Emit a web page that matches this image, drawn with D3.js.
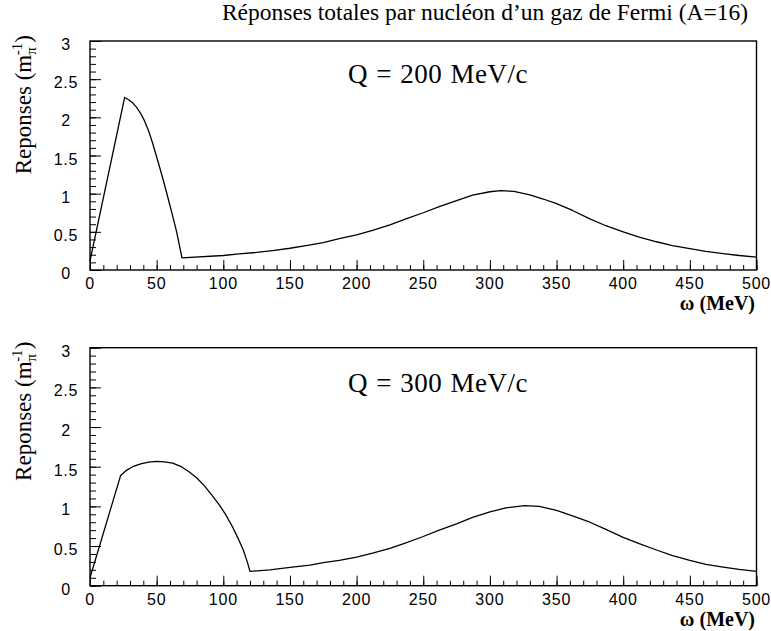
<!DOCTYPE html>
<html>
<head>
<meta charset="utf-8">
<script src="https://cdn.jsdelivr.net/npm/d3@7"></script>
<style>
  html, body { margin: 0; padding: 0; background: #fff; }
  svg { display: block; }
  .serif { font-family: "Liberation Serif", "Times New Roman", serif; }
  .sans { font-family: "Liberation Sans", Arial, sans-serif; }
</style>
</head>
<body>
<svg id="chart" width="771" height="631"></svg>
<script>
// ---- Data ----
const titleText = "Réponses totales par nucléon d’un gaz de Fermi (A=16)";
const panelLabels = ["Q = 200 MeV/c", "Q = 300 MeV/c"];
const xTickValues = [0, 50, 100, 150, 200, 250, 300, 350, 400, 450, 500];
const yTickValues = [0, 0.5, 1, 1.5, 2, 2.5, 3];
const yTickLabels = ["0", "0.5", "1", "1.5", "2", "2.5", "3"];
const xAxisTitle = "ω (MeV)";

// Q = 200 MeV/c
const omega200 = [0, 26, 29, 32, 35, 38, 41, 44, 47, 50, 53, 56, 59, 62, 65, 67, 69,
  100, 112, 125, 137, 150, 162, 175, 187, 200, 212, 225, 237, 250, 262, 275, 287,
  300, 308, 318, 330, 340, 350, 362, 375, 387, 400, 412, 425, 437, 450, 462, 475, 487, 500];
const resp200 = [0.12, 2.26, 2.23, 2.19, 2.13, 2.05, 1.95, 1.82, 1.66, 1.48, 1.30, 1.11, 0.91, 0.71, 0.50, 0.33, 0.16,
  0.19, 0.21, 0.23, 0.255, 0.285, 0.32, 0.36, 0.41, 0.46, 0.52, 0.59, 0.67, 0.75, 0.83, 0.91, 0.98,
  1.025, 1.04, 1.03, 0.985, 0.93, 0.87, 0.78, 0.67, 0.58, 0.50, 0.43, 0.37, 0.32, 0.28, 0.245, 0.215, 0.19, 0.17];

// Q = 300 MeV/c
const omega300 = [0, 23, 27, 32, 38, 44, 50, 56, 62, 68, 74, 80, 86, 92, 97, 102, 107, 111, 115, 118, 120,
  135, 150, 165, 175, 187, 200, 212, 225, 237, 250, 262, 275, 287, 300, 312, 326,
  337, 350, 362, 375, 387, 400, 412, 425, 437, 450, 462, 475, 487, 500];
const resp300 = [0.10, 1.39, 1.45, 1.50, 1.535, 1.558, 1.567, 1.562, 1.545, 1.505, 1.44, 1.36, 1.255, 1.13, 1.02, 0.89, 0.74, 0.60, 0.45, 0.30, 0.18,
  0.20, 0.23, 0.26, 0.29, 0.32, 0.36, 0.41, 0.47, 0.54, 0.62, 0.70, 0.78, 0.86, 0.93, 0.98, 1.01,
  1.00, 0.95, 0.88, 0.80, 0.71, 0.61, 0.53, 0.45, 0.38, 0.32, 0.27, 0.235, 0.205, 0.18];

// ---- Layout ----
const svg = d3.select("#chart");
const left = 90, right = 756.5;
const panels = [
  { top: 41, bottom: 270, omega: omega200, resp: resp200, label: panelLabels[0], qDy: 42 },
  { top: 347.7, bottom: 585.7, omega: omega300, resp: resp300, label: panelLabels[1], qDy: 44 }
];

svg.append("rect").attr("width", 771).attr("height", 631).attr("fill", "#fff");

svg.append("text").attr("class", "serif")
  .attr("x", 485).attr("y", 20)
  .attr("text-anchor", "middle")
  .attr("font-size", 23.5)
  .attr("fill", "#000")
  .text(titleText);

const x = d3.scaleLinear().domain([0, 500]).range([left, right]);
const xMinor = d3.range(0, 501, 10);
const yMinor = d3.range(0, 31, 1).map(d => d / 10);

panels.forEach(p => {
  const y = d3.scaleLinear().domain([0, 3]).range([p.bottom, p.top]);
  const g = svg.append("g");

  g.append("g").attr("transform", `translate(0,${p.bottom})`)
    .call(d3.axisBottom(x).tickValues(xMinor).tickSize(-5).tickFormat(""))
    .call(s => s.select(".domain").remove());
  g.append("g").attr("transform", `translate(0,${p.bottom})`)
    .call(d3.axisBottom(x).tickValues(xTickValues).tickSize(-10).tickFormat(""))
    .call(s => s.select(".domain").remove());
  g.append("g").attr("transform", `translate(${left},0)`)
    .call(d3.axisLeft(y).tickValues(yMinor).tickSize(-6).tickFormat(""))
    .call(s => s.select(".domain").remove());
  g.append("g").attr("transform", `translate(${left},0)`)
    .call(d3.axisLeft(y).tickValues(yTickValues).tickSize(-11).tickFormat(""))
    .call(s => s.select(".domain").remove());
  g.selectAll(".tick line").attr("stroke", "#000").attr("stroke-width", 1);

  g.append("rect")
    .attr("x", left).attr("y", p.top)
    .attr("width", right - left).attr("height", p.bottom - p.top)
    .attr("fill", "none").attr("stroke", "#000").attr("stroke-width", 1.4);

  g.selectAll(".xl").data(xTickValues).enter().append("text")
    .attr("class", "sans")
    .attr("x", d => x(d)).attr("y", p.bottom + 19)
    .attr("text-anchor", "middle").attr("font-size", 16)
    .attr("letter-spacing", 0.8)
    .attr("fill", "#000")
    .text(d => d);

  g.selectAll(".yl").data(yTickValues).enter().append("text")
    .attr("class", "sans")
    .attr("x", 66).attr("y", d => y(d) + 9)
    .attr("text-anchor", "middle").attr("font-size", 16)
    .attr("letter-spacing", 0.8)
    .attr("fill", "#000")
    .text((d, i) => yTickLabels[i]);

  const yt = g.append("text").attr("class", "serif")
    .attr("transform", `translate(31,${p.top - 6}) rotate(-90)`)
    .attr("text-anchor", "end").attr("font-size", 23).attr("fill", "#000");
  yt.append("tspan").text("Reponses (m");
  yt.append("tspan").attr("font-size", 15).attr("dy", 5).text("π");
  yt.append("tspan").attr("font-size", 15).attr("dy", -14).attr("dx", -8).text("-1");
  yt.append("tspan").attr("dy", 9).text(")");

  g.append("text").attr("class", "serif")
    .attr("x", 755).attr("y", p.bottom + 40.3)
    .attr("text-anchor", "end").attr("font-size", 20).attr("font-weight", "bold")
    .attr("fill", "#000")
    .text(xAxisTitle);

  g.append("text").attr("class", "serif")
    .attr("x", 438).attr("y", p.top + p.qDy)
    .attr("text-anchor", "middle").attr("font-size", 27)
    .attr("word-spacing", 1).attr("letter-spacing", 0.5)
    .attr("fill", "#000")
    .text(p.label);

  const pts = p.omega.map((o, i) => [o, p.resp[i]]);
  g.append("path")
    .datum(pts)
    .attr("fill", "none").attr("stroke", "#000").attr("stroke-width", 1.3)
    .attr("stroke-linejoin", "round")
    .attr("d", d3.line().x(d => x(d[0])).y(d => y(d[1])).curve(d3.curveLinear));
});
</script>
</body>
</html>
